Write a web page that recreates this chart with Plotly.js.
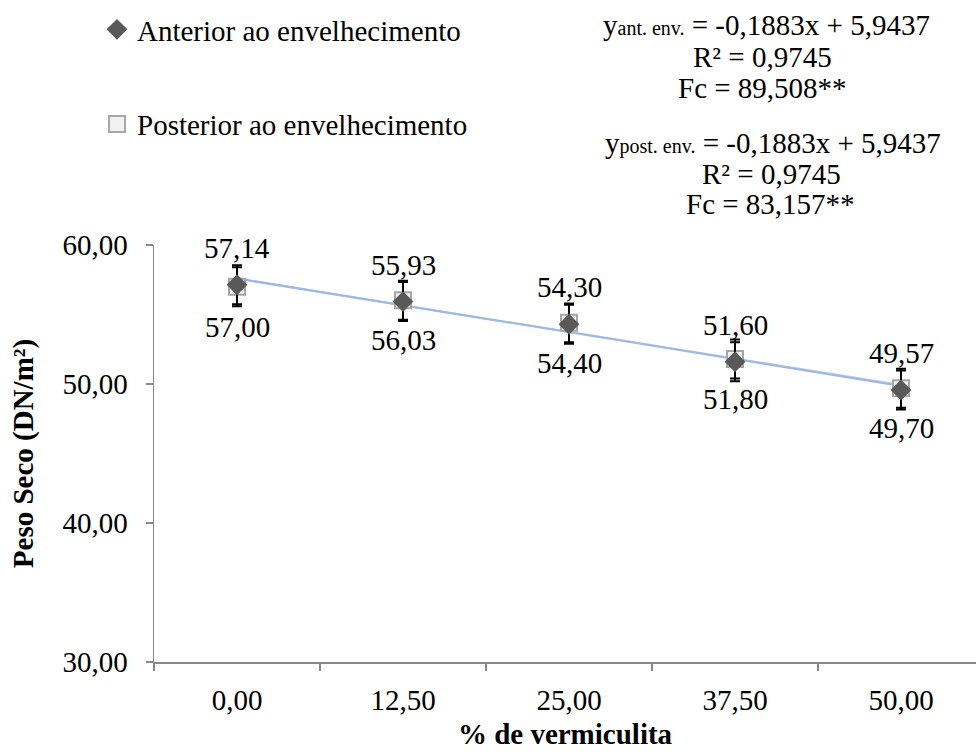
<!DOCTYPE html>
<html>
<head>
<meta charset="utf-8">
<script src="https://cdn.plot.ly/plotly-3.0.1.min.js"></script>
<style>html,body{margin:0;padding:0;background:#fff;}#chart{width:976px;height:754px;}</style>
</head>
<body>
<div id="chart"></div>
<script>
// ---- data ----
var categories = ['0,00', '12,50', '25,00', '37,50', '50,00'];
var anterior = [57.14, 55.93, 54.30, 51.60, 49.57];
var posterior = [57.00, 56.03, 54.40, 51.80, 49.70];
var errAnterior = [1.4, 1.4, 1.4, 1.4, 1.4];
var errPosterior = [1.4, 1.4, 1.4, 1.4, 1.4];
var trendX = ['0,00', '50,00'];
var trendAnterior = [57.60, 49.85];
var trendPosterior = [57.58, 49.92];
var anteriorLabels = ['57,14', '55,93', '54,30', '51,60', '49,57'];
var posteriorLabels = ['57,00', '56,03', '54,40', '51,80', '49,70'];
var seriesNames = ['Anterior ao envelhecimento', 'Posterior ao envelhecimento'];
var eqLines = [
  'y<span style="font-size:20px">ant. env.</span> = -0,1883x + 5,9437',
  'R² = 0,9745',
  'Fc = 89,508**',
  'y<span style="font-size:20px">post. env.</span> = -0,1883x + 5,9437',
  'R² = 0,9745',
  'Fc = 83,157**'
];

var FONT = 'Liberation Serif, Times New Roman, serif';
var FS = 29;
var W = 976, H = 754, ML = 154, MR = 0, MT = 245, MB = 92;
var PW = W - ML - MR, PH = H - MT - MB;
function px2x(px) { return (px - ML) / PW; }
function py2y(py) { return 1 + (MT - py) / PH; }

var traces = [
  { x: trendX, y: trendPosterior, mode: 'lines', line: {color: '#b4c7e7', width: 2}, showlegend: false, hoverinfo: 'skip' },
  { x: trendX, y: trendAnterior, mode: 'lines', line: {color: '#9fb8e2', width: 2}, showlegend: false, hoverinfo: 'skip' },
  {
    x: categories, y: posterior, name: seriesNames[1], mode: 'markers', legendrank: 2, legendgroup: 'b',
    marker: {symbol: 'square', size: 16, color: '#f2f2f2', line: {color: '#a6a6a6', width: 2}},
    error_y: {type: 'data', array: errPosterior, visible: true, color: '#000', thickness: 2, width: 5}
  },
  {
    x: categories, y: anterior, name: seriesNames[0], mode: 'markers', legendrank: 1, legendgroup: 'a',
    marker: {symbol: 'diamond', size: 16, color: '#595959', line: {width: 0}},
    error_y: {type: 'data', array: errAnterior, visible: true, color: '#000', thickness: 2, width: 5}
  }
];

var annotations = [];
for (var i = 0; i < categories.length; i++) {
  annotations.push({x: categories[i], y: anterior[i], xref: 'x', yref: 'y', text: anteriorLabels[i],
    showarrow: false, yshift: 37, font: {family: FONT, size: FS, color: '#000'}});
  annotations.push({x: categories[i], y: posterior[i], xref: 'x', yref: 'y', text: posteriorLabels[i],
    showarrow: false, yshift: -40, font: {family: FONT, size: FS, color: '#000'}});
}
var eqY = [25, 57, 88, 143, 174, 204];
var eqX = [766, 762, 762, 773, 771, 770];
for (var j = 0; j < eqLines.length; j++) {
  annotations.push({x: px2x(eqX[j]), y: py2y(eqY[j]), xref: 'paper', yref: 'paper', text: eqLines[j],
    showarrow: false, xanchor: 'center', yanchor: 'middle', font: {family: FONT, size: FS, color: '#000'}});
}

var layout = {
  width: W, height: H,
  margin: {l: ML, r: MR, t: MT, b: MB, pad: 0},
  paper_bgcolor: '#fff', plot_bgcolor: '#fff',
  separators: ',.',
  font: {family: FONT, size: FS, color: '#000'},
  showlegend: true,
  legend: {
    x: px2x(97), y: py2y(4), xanchor: 'left', yanchor: 'top',
    traceorder: 'grouped', tracegroupgap: 54,
    font: {family: FONT, size: FS, color: '#000'}, bgcolor: 'rgba(0,0,0,0)'
  },
  xaxis: {
    type: 'category', categoryorder: 'array', categoryarray: categories,
    range: [-0.5, -0.5 + PW / 166],
    tickson: 'boundaries', ticks: 'outside', ticklen: 7, tickcolor: '#898989', tickwidth: 1.5,
    showline: true, linecolor: '#898989', linewidth: 1.5, showgrid: false, zeroline: false,
    ticklabelstandoff: 12,
    title: {text: '<b>% de vermiculita</b>', font: {family: FONT, size: FS, color: '#000'}, standoff: 8}
  },
  yaxis: {
    range: [30, 60], dtick: 10, tickformat: '.2f',
    ticks: 'outside', ticklen: 7, tickcolor: '#898989', tickwidth: 1.5,
    showline: true, linecolor: '#898989', linewidth: 1.5, showgrid: false, zeroline: false,
    ticklabelstandoff: 12,
    title: {text: '<b>Peso Seco (DN/m²)</b>', font: {family: FONT, size: FS, color: '#000'}, standoff: 20}
  },
  annotations: annotations
};

Plotly.newPlot('chart', traces, layout, {displayModeBar: false, staticPlot: true});
</script>
</body>
</html>
